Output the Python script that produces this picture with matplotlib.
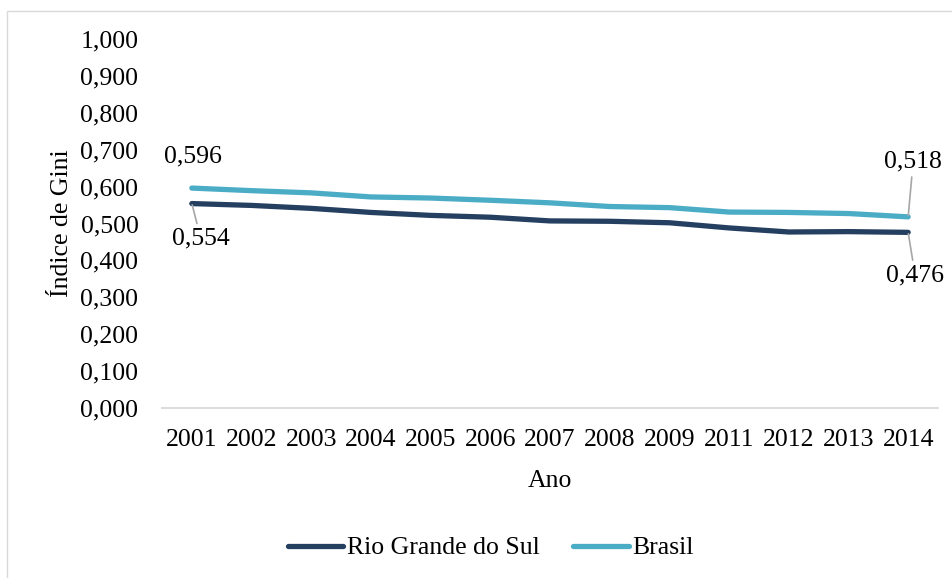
import matplotlib.pyplot as plt
import matplotlib.patches as patches
from matplotlib.ticker import FuncFormatter, MultipleLocator

# Índice de Gini, Rio Grande do Sul x Brasil
anos = ["2001", "2002", "2003", "2004", "2005", "2006", "2007",
        "2008", "2009", "2011", "2012", "2013", "2014"]
gini_rs = [0.554, 0.549, 0.541, 0.530, 0.522, 0.517, 0.507,
           0.506, 0.502, 0.488, 0.477, 0.478, 0.476]
gini_br = [0.596, 0.589, 0.583, 0.572, 0.569, 0.563, 0.556,
           0.546, 0.543, 0.531, 0.530, 0.527, 0.518]

COR_RS = "#253f60"
COR_BR = "#4bacc6"
FS = 18.5

plt.rcParams.update({
    "font.family": ["Liberation Serif", "DejaVu Serif"],
    "font.size": FS,
})

W, H = 952, 578
fig = plt.figure(figsize=(W / 100, H / 100), dpi=100)

# light grey frame around the chart area (cropped on right/bottom)
frame = patches.Rectangle((7 / W, -0.1), 1.2, 1.1 - 11 / H,
                          transform=fig.transFigure, fill=False,
                          edgecolor="#d9d9d9", linewidth=1.0)
fig.patches.append(frame)

ax = fig.add_axes([162 / W, 1 - 408 / H, (938 - 162) / W, (408 - 39) / H])

x = list(range(len(anos)))
ax.plot(x, gini_rs, color=COR_RS, lw=3.8, solid_capstyle="round",
        label="Rio Grande do Sul", zorder=3)
ax.plot(x, gini_br, color=COR_BR, lw=3.8, solid_capstyle="round",
        label="Brasil", zorder=3)

ax.set_xlim(-0.5, len(anos) - 0.5)
ax.set_ylim(0, 1.0)
ax.set_xticks(x)
ax.set_xticklabels(anos)
ax.yaxis.set_major_locator(MultipleLocator(0.1))
ax.yaxis.set_major_formatter(FuncFormatter(lambda v, _: f"{v:.3f}".replace(".", ",")))
ax.tick_params(axis="both", length=0, labelsize=FS)
ax.tick_params(axis="y", pad=17)
ax.tick_params(axis="x", pad=15)

for s in ["top", "right", "left"]:
    ax.spines[s].set_visible(False)
ax.spines["bottom"].set_color("#d9d9d9")
ax.spines["bottom"].set_linewidth(1.3)

ax.set_xlabel("Ano", fontsize=FS, labelpad=14)
ax.set_ylabel("Índice de Gini", fontsize=FS, labelpad=5)

fmt = lambda v: f"{v:.3f}".replace(".", ",")
leader = dict(arrowstyle="-", color="#a6a6a6", lw=1.2, shrinkA=1, shrinkB=1)

# data labels on first and last points
ax.annotate(fmt(gini_br[0]), (x[0], gini_br[0]), xytext=(1, 32),
            textcoords="offset pixels", ha="center", va="center", fontsize=FS)
ax.annotate(fmt(gini_rs[0]), (x[0], gini_rs[0]), xytext=(9, -35),
            textcoords="offset pixels", ha="center", va="center", fontsize=FS,
            arrowprops=leader)
ax.annotate(fmt(gini_br[-1]), (x[-1], gini_br[-1]), xytext=(5, 55),
            textcoords="offset pixels", ha="center", va="center", fontsize=FS,
            arrowprops=leader)
ax.annotate(fmt(gini_rs[-1]), (x[-1], gini_rs[-1]), xytext=(7, -43),
            textcoords="offset pixels", ha="center", va="center", fontsize=FS,
            arrowprops=leader)

fig.legend(loc="center", bbox_to_anchor=(491 / W, 1 - 548 / H), ncol=2,
           frameon=False, fontsize=FS, handlelength=2.15, handletextpad=0.15,
           columnspacing=1.3)

fig.savefig("out.png", dpi=100, facecolor="white")
